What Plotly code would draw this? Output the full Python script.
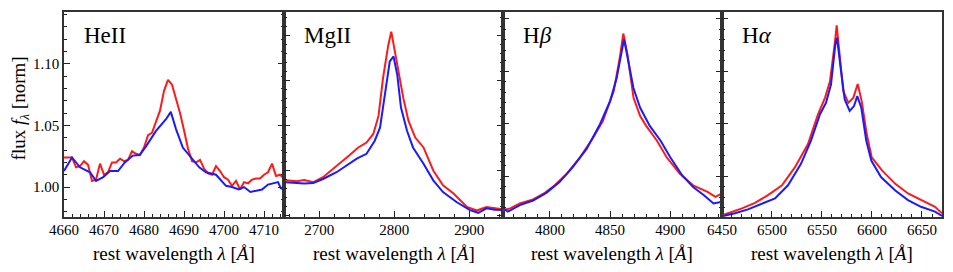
import plotly.graph_objects as go

# HeII panel #
heii_wave_red = [4660, 4662, 4663, 4664, 4665, 4666, 4667, 4668, 4669, 4670, 4671, 4672, 4673, 4674,
                 4675, 4676, 4677, 4678, 4679, 4680, 4681, 4682, 4683, 4684, 4685, 4686, 4687, 4688,
                 4689, 4690, 4691, 4692, 4693, 4694, 4695, 4696, 4697, 4698, 4699, 4700, 4701, 4702,
                 4703, 4704, 4705, 4706, 4707, 4708, 4709, 4710, 4711, 4712, 4713, 4714, 4715]
heii_red = [1.024, 1.024, 1.016, 1.017, 1.021, 1.018, 1.005, 1.006, 1.019, 1.010, 1.012, 1.020, 1.020, 1.023,
            1.021, 1.022, 1.029, 1.027, 1.026, 1.032, 1.042, 1.044, 1.053, 1.062, 1.078, 1.087, 1.083, 1.072,
            1.060, 1.046, 1.031, 1.021, 1.020, 1.022, 1.015, 1.011, 1.010, 1.017, 1.013, 1.008, 1.006, 1.001,
            1.005, 0.998, 1.004, 1.003, 1.006, 1.007, 1.007, 1.010, 1.012, 1.019, 1.009, 1.010, 1.007]
heii_wave_blue = [4660, 4662, 4664, 4666.5, 4668, 4669.8, 4671.5, 4673.5, 4675.2, 4676, 4677.2, 4678.9,
                  4680.5, 4683, 4685.5, 4686.7, 4688, 4689.7, 4691.3, 4693.8, 4695.5, 4698, 4700.5, 4702,
                  4703.7, 4705, 4706.6, 4707.8, 4709.5, 4711, 4713.5, 4714.2, 4715]
heii_blue = [1.013, 1.024, 1.016, 1.012, 1.005, 1.008, 1.013, 1.013, 1.020, 1.022, 1.0255, 1.026,
             1.033, 1.0455, 1.055, 1.061, 1.047, 1.032, 1.026, 1.016, 1.012, 1.010, 1.001, 1.000,
             0.998, 1.000, 0.996, 0.997, 0.998, 1.002, 1.004, 0.999, 0.998]

# MgII panel #
mgii_wave_red = [2655, 2670, 2680, 2692, 2705, 2719, 2732, 2741, 2752, 2763, 2772, 2779, 2785, 2792, 2796,
                 2801, 2805, 2812, 2819, 2828, 2839, 2852, 2865, 2879, 2897, 2910, 2923, 2934, 2944]
mgii_red = [0.978, 0.976, 0.979, 0.974, 0.985, 1.004, 1.022, 1.035, 1.051, 1.062, 1.081, 1.121, 1.205, 1.278, 1.308,
            1.264, 1.227, 1.161, 1.110, 1.073, 1.051, 1.000, 0.967, 0.949, 0.919, 0.911, 0.919, 0.916, 0.914]
mgii_wave_blue = [2655, 2670, 2680, 2692, 2705, 2723, 2736, 2750, 2763, 2774, 2781, 2787, 2794, 2799, 2804,
                  2809, 2817, 2825, 2839, 2852, 2865, 2883, 2901, 2912, 2923, 2934, 2944]
mgii_blue = [0.974, 0.973, 0.971, 0.972, 0.981, 0.996, 1.011, 1.026, 1.037, 1.066, 1.095, 1.161, 1.242, 1.253, 1.212,
             1.139, 1.088, 1.051, 1.015, 0.978, 0.952, 0.930, 0.912, 0.906, 0.916, 0.913, 0.912]

# Hbeta panel #
hb_wave_red = [4761, 4767, 4775, 4786, 4795, 4804, 4814, 4825, 4836, 4844, 4853, 4858, 4861, 4864.5,
               4869.5, 4875, 4880, 4889, 4897, 4908, 4919, 4931, 4937.5, 4943]
hb_red = [1.179, 1.195, 1.242, 1.280, 1.337, 1.415, 1.525, 1.682, 1.871, 2.028, 2.311, 2.625, 2.861, 2.658,
          2.248, 2.075, 1.981, 1.840, 1.682, 1.525, 1.415, 1.352, 1.305, 1.337]
hb_wave_blue = [4761, 4765, 4775, 4786, 4797, 4808, 4819, 4830.5, 4841.6, 4850, 4855.5, 4859.7, 4861.6,
                4865.2, 4869.4, 4875, 4883, 4892, 4900, 4910, 4919, 4928, 4936, 4943]
hb_blue = [1.195, 1.164, 1.226, 1.270, 1.343, 1.446, 1.588, 1.761, 1.997, 2.217, 2.437, 2.720, 2.808,
           2.594, 2.342, 2.154, 1.981, 1.840, 1.682, 1.509, 1.399, 1.321, 1.242, 1.258]

# Halpha panel #
ha_wave_red = [6451, 6460, 6470, 6483, 6496, 6510, 6523, 6536, 6546, 6553, 6558, 6563, 6564.7, 6568,
               6571.3, 6576.3, 6581.3, 6585.7, 6589.7, 6594.7, 6599.7, 6610, 6623, 6636, 6650, 6663, 6670]
ha_red = [1.132, 1.163, 1.195, 1.248, 1.321, 1.415, 1.588, 1.808, 2.092, 2.248, 2.406, 2.783, 2.940, 2.625,
          2.311, 2.201, 2.248, 2.380, 2.217, 1.903, 1.682, 1.557, 1.431, 1.337, 1.274, 1.210, 1.148]
ha_wave_blue = [6451, 6463, 6476, 6489, 6503, 6516, 6529, 6539, 6548, 6554, 6559, 6563.3, 6565, 6568.7,
                6572.7, 6577.7, 6582, 6585.3, 6589.3, 6594.3, 6599.3, 6609, 6623, 6636, 6649, 6663, 6670]
ha_blue = [1.123, 1.148, 1.186, 1.236, 1.290, 1.415, 1.620, 1.840, 2.092, 2.201, 2.374, 2.752, 2.821, 2.531,
           2.233, 2.123, 2.170, 2.264, 2.154, 1.840, 1.651, 1.494, 1.368, 1.274, 1.210, 1.164, 1.123]

panel_labels = ["HeII", "MgII", "H<i>β</i>", "H<i>α</i>"]

RED = "#ff1a1a"
BLUE = "#1a1aff"
FONT = "Liberation Serif, Times New Roman, serif"

panels = [
    (heii_wave_red, heii_red, heii_wave_blue, heii_blue),
    (mgii_wave_red, mgii_red, mgii_wave_blue, mgii_blue),
    (hb_wave_red, hb_red, hb_wave_blue, hb_blue),
    (ha_wave_red, ha_red, ha_wave_blue, ha_blue),
]

# Figure Initiation #
fig = go.Figure()

for i, (wr, fr, wb, fb) in enumerate(panels):
    n = "" if i == 0 else str(i + 1)
    fig.add_trace(go.Scatter(x=wr, y=fr, mode="lines", line=dict(color=RED, width=2),
                             xaxis="x" + n, yaxis="y" + n, showlegend=False))
    fig.add_trace(go.Scatter(x=wb, y=fb, mode="lines", line=dict(color=BLUE, width=2),
                             xaxis="x" + n, yaxis="y" + n, showlegend=False))

# Axes #
x_domains = [[0, 0.2506], [0.2506, 0.5], [0.5, 0.7494], [0.7494, 1]]
x_ranges = [[4660, 4715], [2653, 2945], [4761, 4943], [6450, 6670]]
x_ticks = [(4660, 10, 2), (2700, 100, 20), (4800, 50, 10), (6450, 50, 10)]
y_ranges = [[0.9757, 1.142], [0.8967, 1.3516], [1.113, 3.066], [1.113, 3.066]]
y_ticks = [(1.0, 0.05, 0.01), (1.0, 0.1, 0.02), (1.5, 0.5, 0.1), (1.5, 0.5, 0.1)]

layout = {}
for i in range(4):
    n = "" if i == 0 else str(i + 1)
    t0, dt, mdt = x_ticks[i]
    layout["xaxis" + n] = dict(
        domain=x_domains[i], range=x_ranges[i], anchor="y" + n,
        tick0=t0, dtick=dt, ticks="inside", ticklen=6, tickcolor="#222",
        minor=dict(tick0=t0, dtick=mdt, ticks="inside", ticklen=3, tickcolor="#222"),
        showline=True, linecolor="#333", linewidth=1.5, mirror=True,
        showgrid=False, zeroline=False, ticklabelstandoff=-2,
        tickfont=dict(family=FONT, size=15, color="black"),
    )
    y0, ydt, ymdt = y_ticks[i]
    layout["yaxis" + n] = dict(
        domain=[0, 1], range=y_ranges[i], anchor="x" + n,
        tick0=y0, dtick=ydt, ticks="inside", ticklen=6, tickcolor="#222",
        minor=dict(tick0=y0, dtick=ymdt, ticks="inside", ticklen=3, tickcolor="#222"),
        showline=True, linecolor="#333", linewidth=1.5,
        mirror="ticks" if i < 3 else True,
        showgrid=False, zeroline=False, showticklabels=(i == 0), tickformat=".2f",
        tickfont=dict(family=FONT, size=15, color="black"),
    )

annotations = []
for i in range(4):
    n = "" if i == 0 else str(i + 1)
    annotations.append(dict(text=panel_labels[i], xref="x" + n + " domain", yref="y" + n + " domain",
                            x=0.08, y=0.955, xanchor="left", yanchor="top", showarrow=False,
                            font=dict(family=FONT, size=23, color="black")))
    annotations.append(dict(text="rest wavelength <i>λ</i> [<i>Å</i>]", xref="x" + n + " domain",
                            yref="paper", x=0.5, y=-0.178, xanchor="center", yanchor="middle",
                            showarrow=False, font=dict(family=FONT, size=19, color="black")))
annotations.append(dict(text="flux <i>f</i><sub><i>λ</i></sub> [norm]", xref="paper", yref="paper",
                        x=-44 / 878, y=0.53, textangle=-90, xanchor="center", yanchor="middle",
                        showarrow=False, font=dict(family=FONT, size=19, color="black")))

# Figure Layout # (page body adds an 8px offset, so the figure is trimmed by that)
fig.update_layout(
    width=945, height=264,
    margin=dict(l=56, r=11, t=2, b=55),
    plot_bgcolor="white", paper_bgcolor="white",
    annotations=annotations,
    **layout,
)

fig.write_html("out.html")
